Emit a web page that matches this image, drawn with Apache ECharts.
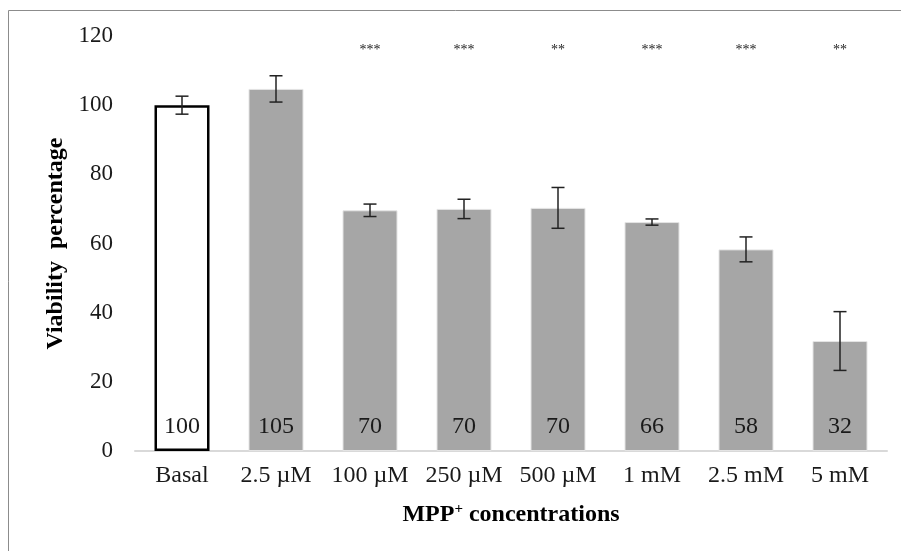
<!DOCTYPE html>
<html>
<head>
<meta charset="utf-8">
<script src="https://cdn.jsdelivr.net/npm/echarts@6/dist/echarts.min.js"></script>
<style>
html,body{margin:0;padding:0;background:#fff;}
#chart{width:901px;height:551px;}
</style>
</head>
<body>
<div id="chart"></div>
<script>
var categories = ['Basal', '2.5 \u00b5M', '100 \u00b5M', '250 \u00b5M', '500 \u00b5M', '1 mM', '2.5 mM', '5 mM'];
var viability = [100, 104.7, 69.6, 70.0, 70.3, 66.2, 58.3, 31.8];
var errors = [2.6, 3.8, 1.8, 2.8, 5.9, 0.9, 3.6, 8.5];
var valueLabels = ['100', '105', '70', '70', '70', '66', '58', '32'];
var significance = ['', '', '***', '***', '**', '***', '***', '**'];
var yTicks = [0, 20, 40, 60, 80, 100, 120];

var FONT = "'Liberation Serif', 'Times New Roman', serif";
var SIG_Y = 116;

var chart = echarts.init(document.getElementById('chart'), null, {renderer: 'canvas'});

var barData = viability.map(function (v, i) {
  var item = {value: v, label: {formatter: valueLabels[i]}};
  if (i === 0) {
    item.itemStyle = {color: '#ffffff', borderColor: '#000000', borderWidth: 2.5};
  }
  return item;
});

var option = {
  backgroundColor: '#ffffff',
  animation: false,
  graphic: [{
    type: 'rect',
    shape: {x: 8.5, y: 10.5, width: 1000, height: 1000},
    style: {fill: 'none', stroke: '#8c8c8c', lineWidth: 1},
    silent: true,
    z: -1
  }],
  grid: {left: 135, right: 14, top: 36, bottom: 100},
  xAxis: {
    type: 'category',
    data: categories,
    axisLine: {show: true, lineStyle: {color: '#d9d9d9', width: 2}},
    axisTick: {show: false},
    axisLabel: {fontFamily: FONT, fontSize: 24, color: '#1a1a1a', margin: 13, interval: 0},
    name: 'MPP{sup|+} concentrations',
    nameLocation: 'middle',
    nameGap: 51,
    nameTextStyle: {
      fontFamily: FONT, fontSize: 24, fontWeight: 'bold', color: '#000',
      rich: {sup: {fontFamily: FONT, fontSize: 15, fontWeight: 'bold', color: '#000', padding: [0, 0, 11, 0]}}
    }
  },
  yAxis: {
    type: 'value',
    min: yTicks[0],
    max: yTicks[yTicks.length - 1],
    interval: yTicks[1] - yTicks[0],
    axisLine: {show: false},
    axisTick: {show: false},
    splitLine: {show: false},
    axisLabel: {fontFamily: FONT, fontSize: 23, color: '#1a1a1a', margin: 22},
    name: 'Viability  percentage',
    nameLocation: 'middle',
    nameGap: 64,
    nameTextStyle: {fontFamily: FONT, fontSize: 24, fontWeight: 'bold', color: '#000'}
  },
  series: [
    {
      type: 'bar',
      data: barData,
      barWidth: 55,
      itemStyle: {color: '#a6a6a6', borderColor: '#e4e4e4', borderWidth: 1},
      label: {
        show: true,
        position: 'insideBottom',
        distance: 12,
        fontFamily: FONT,
        fontSize: 24,
        color: '#1a1a1a'
      },
      z: 2
    },
    {
      type: 'custom',
      z: 5,
      data: viability.map(function (v, i) { return [i, v, errors[i]]; }),
      renderItem: function (params, api) {
        var i = api.value(0), v = api.value(1), e = api.value(2);
        var hi = api.coord([i, v + e]);
        var lo = api.coord([i, v - e]);
        var cap = 6.5;
        var st = {stroke: '#222', lineWidth: 1.5};
        return {
          type: 'group',
          children: [
            {type: 'line', shape: {x1: hi[0], y1: hi[1], x2: lo[0], y2: lo[1]}, style: st},
            {type: 'line', shape: {x1: hi[0] - cap, y1: hi[1], x2: hi[0] + cap, y2: hi[1]}, style: st},
            {type: 'line', shape: {x1: lo[0] - cap, y1: lo[1], x2: lo[0] + cap, y2: lo[1]}, style: st}
          ]
        };
      }
    },
    {
      type: 'custom',
      z: 5,
      data: significance.map(function (s, i) { return [i, SIG_Y, s]; }),
      renderItem: function (params, api) {
        var i = api.value(0);
        var p = api.coord([i, api.value(1)]);
        return {
          type: 'text',
          x: p[0], y: p[1],
          style: {
            text: significance[i],
            fontFamily: FONT, fontSize: 14, fill: '#222',
            align: 'center', verticalAlign: 'middle'
          }
        };
      }
    }
  ]
};
chart.setOption(option);
</script>
</body>
</html>
